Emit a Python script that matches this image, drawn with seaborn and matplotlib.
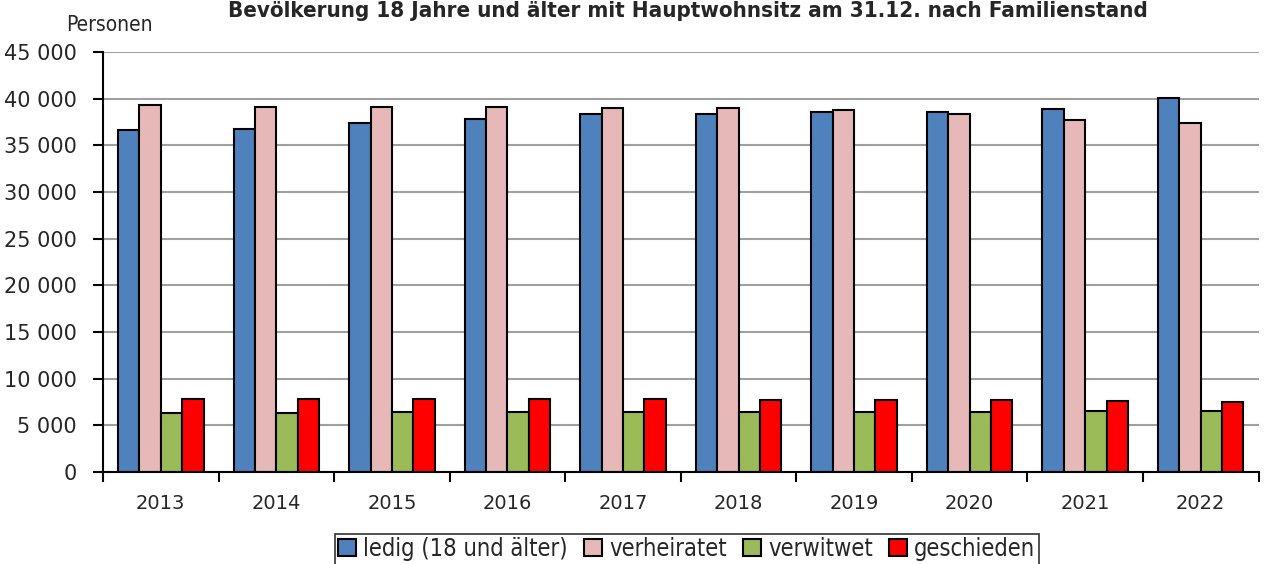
import matplotlib.pyplot as plt
import matplotlib.ticker as mticker
from matplotlib.font_manager import FontProperties
import pandas as pd
import seaborn as sns

# Data
YEARS = ["2013", "2014", "2015", "2016", "2017", "2018", "2019", "2020", "2021", "2022"]
LEDIG = [36600, 36700, 37350, 37800, 38300, 38400, 38550, 38550, 38900, 40050]
VERHEIRATET = [39300, 39150, 39100, 39050, 39000, 38950, 38750, 38300, 37750, 37400]
VERWITWET = [6300, 6350, 6400, 6400, 6400, 6400, 6400, 6450, 6550, 6500]
GESCHIEDEN = [7850, 7800, 7800, 7800, 7800, 7750, 7750, 7700, 7600, 7550]
SERIES = ["ledig (18 und älter)", "verheiratet", "verwitwet", "geschieden"]
COLORS = ["#4F81BD", "#E6B9B8", "#9BBB59", "#FF0000"]

TITLE = "Bevölkerung 18 Jahre und älter mit Hauptwohnsitz am 31.12. nach Familienstand"

df = pd.DataFrame({"Jahr": YEARS, SERIES[0]: LEDIG, SERIES[1]: VERHEIRATET,
                   SERIES[2]: VERWITWET, SERIES[3]: GESCHIEDEN})
long_df = df.melt(id_vars="Jahr", var_name="Familienstand", value_name="Personen")

sns.set_theme(style="white")
plt.rcParams["font.family"] = ["DejaVu Sans"]


def narrow(size, weight="normal"):
    return FontProperties(family="DejaVu Sans", stretch="condensed", size=size, weight=weight)


fig = plt.figure(figsize=(12.67, 5.64), dpi=100)
ax = fig.add_axes([0.0813, 0.163, 0.912, 0.745])

sns.barplot(data=long_df, x="Jahr", y="Personen", hue="Familienstand",
            palette=COLORS, width=0.74, edgecolor="black", linewidth=1.5,
            saturation=1, ax=ax, legend=True)

ax.set_ylim(0, 45000)
ax.set_xlim(-0.5, len(YEARS) - 0.5)
ax.yaxis.set_major_locator(mticker.MultipleLocator(5000))
ax.yaxis.set_major_formatter(mticker.FuncFormatter(lambda v, p: f"{int(v):,}".replace(",", " ")))
ax.yaxis.grid(True, color="#a0a0a0", linewidth=1.5)
ax.set_axisbelow(True)

# ticks between categories on x axis
ax.set_xticks(range(len(YEARS)))
ax.set_xticklabels(YEARS)
ax.tick_params(axis="x", which="major", length=0, labelsize=14, pad=16)
ax.set_xticks([i - 0.5 for i in range(len(YEARS) + 1)], minor=True)
ax.tick_params(axis="x", which="minor", length=7, width=1.5, color="black", direction="out", bottom=True)
ax.tick_params(axis="y", length=7, width=1.5, color="black", direction="out", left=True, labelsize=15, pad=12)

for side in ["top", "right"]:
    ax.spines[side].set_visible(False)
for side in ["left", "bottom"]:
    ax.spines[side].set_color("black")
    ax.spines[side].set_linewidth(1.5)

ax.set_xlabel("")
ax.set_ylabel("")

fig.text(0.052, 0.955, "Personen", fontproperties=narrow(15), ha="left", va="center")
fig.text(0.543, 0.999, TITLE, fontproperties=narrow(16, "bold"), ha="center", va="top")

handles, labels = ax.get_legend_handles_labels()
ax.legend_.remove()
leg = fig.legend(handles, labels, loc="upper center", bbox_to_anchor=(0.542, 0.075), ncol=4,
                 frameon=True, fancybox=False, edgecolor="black", handlelength=0.75, handleheight=0.75,
                 handletextpad=0.3, columnspacing=0.7, borderpad=0.15, prop=narrow(17))
leg.get_frame().set_linewidth(1.2)

plt.savefig("out.png", dpi=100, transparent=False, facecolor="white")
